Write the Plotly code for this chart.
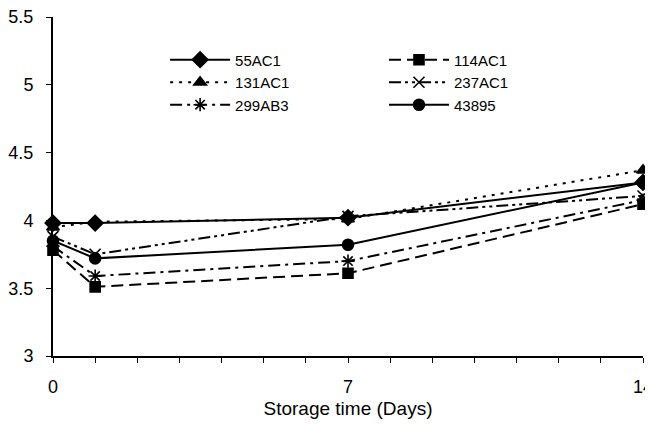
import plotly.graph_objects as go

days = [0, 1, 7, 14]
series_names = ["55AC1", "114AC1", "131AC1", "237AC1", "299AB3", "43895"]
v_55AC1 = [3.98, 3.98, 4.02, 4.28]
v_114AC1 = [3.78, 3.51, 3.61, 4.12]
v_131AC1 = [3.95, 3.99, 4.01, 4.37]
v_237AC1 = [3.88, 3.75, 4.03, 4.18]
v_299AB3 = [3.81, 3.59, 3.70, 4.15]
v_43895 = [3.85, 3.72, 3.82, 4.28]
values = [v_55AC1, v_114AC1, v_131AC1, v_237AC1, v_299AB3, v_43895]

symbols = ["diamond", "square", "triangle-up", "x-thin-open", "asterisk-open", "circle"]
dashes = ["solid", "12px,6px", "3px,6px", "12px,4px,3px,4px,3px,4px", "12px,5px,3px,5px", "solid"]
sizes = [12, 10, 11, 11, 11, 11]
legend_ids = ["legend", "legend2", "legend", "legend2", "legend", "legend2"]

x_tickvals = list(range(0, 15))
x_ticktext = ["0" if d == 0 else "7" if d == 7 else "14" if d == 14 else "" for d in x_tickvals]
y_tickvals = [3, 3.5, 4, 4.5, 5, 5.5]
y_ticktext = ["3", "3.5", "4", "4.5", "5", "5.5"]

fig = go.Figure()
for name, vals, sym, dsh, sz, lg in zip(series_names, values, symbols, dashes, sizes, legend_ids):
    fig.add_trace(go.Scatter(
        x=days, y=vals, name=name, mode="lines+markers", legend=lg,
        cliponaxis=False,
        line=dict(color="black", width=2, dash=dsh),
        marker=dict(symbol=sym, size=sz, color="black",
                    line=dict(color="black", width=1.6)),
    ))

leg_common = dict(orientation="v", yanchor="top", xanchor="left",
                  font=dict(size=15), bgcolor="rgba(0,0,0,0)",
                  tracegroupgap=0, itemwidth=60, borderwidth=0)
fig.update_layout(
    width=645, height=411,
    margin=dict(l=45, r=10, t=9, b=63),
    paper_bgcolor="white", plot_bgcolor="white",
    font=dict(family="Liberation Sans, Arial, sans-serif", size=18, color="black"),
    showlegend=True,
    legend=dict(x=0.19, y=0.922, **leg_common),
    legend2=dict(x=0.561, y=0.922, **leg_common),
)
fig.update_xaxes(
    range=[0, 14], tickvals=x_tickvals, ticktext=x_ticktext,
    ticks="outside", ticklen=5, tickwidth=1.3, tickcolor="black",
    ticklabelstandoff=8, ticklabeloverflow="allow", automargin=False,
    tickfont=dict(size=18),
    showline=True, linecolor="black", linewidth=2, showgrid=False, zeroline=False,
    title=dict(text="Storage time (Days)", font=dict(size=19), standoff=11),
)
fig.update_yaxes(
    range=[3, 5.5], tickvals=y_tickvals, ticktext=y_ticktext,
    ticks="outside", ticklen=5, tickwidth=1.3, tickcolor="black",
    ticklabelstandoff=9, ticklabeloverflow="allow", automargin=False,
    tickfont=dict(size=18),
    showline=True, linecolor="black", linewidth=2, showgrid=False, zeroline=False,
)

fig.write_html("out.html")
